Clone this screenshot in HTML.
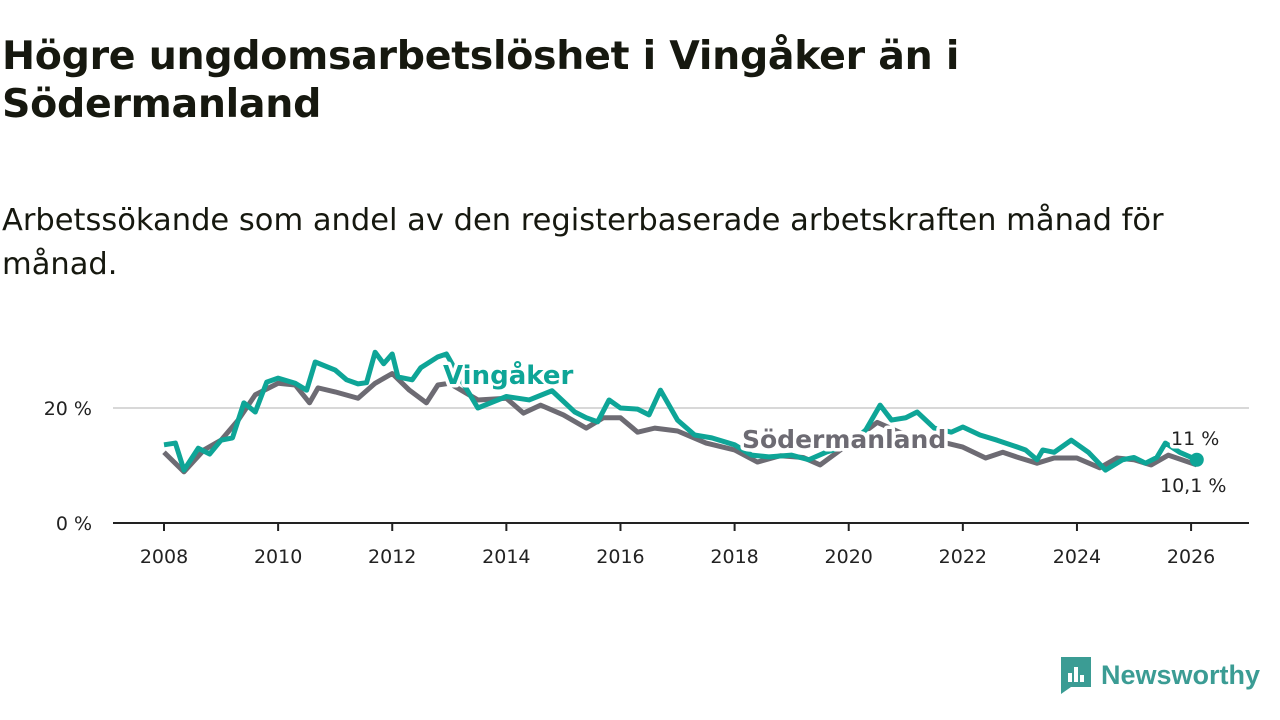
<!DOCTYPE html>
<html><head><meta charset="utf-8">
<style>
body{margin:0;width:1280px;height:720px;background:#fff;font-family:"DejaVu Sans","Liberation Sans",sans-serif;color:#111;overflow:hidden;position:relative}
h1{position:absolute;left:2px;top:32px;margin:0;font-size:39.5px;line-height:48px;font-weight:bold;color:#16180f;width:1000px;letter-spacing:-0.3px}
p{position:absolute;left:2px;top:199px;margin:0;font-size:30.5px;line-height:44px;color:#16180f;width:1200px}
svg{position:absolute;left:0;top:0}
</style></head><body>
<h1>Högre ungdomsarbetslöshet i Vingåker än i Södermanland</h1>
<p>Arbetssökande som andel av den registerbaserade arbetskraften månad för månad.</p>
<svg id="c" width="1280" height="720"></svg>
<script>
const xTicks=[2008,2010,2012,2014,2016,2018,2020,2022,2024,2026];
const yTicks=[0,20];
const vT=[2008,2008.2,2008.35,2008.6,2008.8,2009,2009.2,2009.4,2009.6,2009.8,2010,2010.3,2010.5,2010.65,2011,2011.2,2011.4,2011.55,2011.7,2011.85,2012,2012.1,2012.35,2012.5,2012.8,2012.95,2013.2,2013.5,2014,2014.4,2014.8,2015.2,2015.4,2015.6,2015.8,2016,2016.3,2016.5,2016.7,2017,2017.3,2017.6,2018,2018.3,2018.6,2019,2019.3,2019.6,2020,2020.3,2020.55,2020.75,2021,2021.2,2021.5,2021.8,2022,2022.3,2022.6,2022.9,2023.1,2023.3,2023.4,2023.6,2023.9,2024.2,2024.5,2024.8,2025,2025.2,2025.4,2025.55,2025.8,2026.1];
const vV=[13.6,13.9,9.2,13,12,14.4,14.8,20.9,19.3,24.5,25.2,24.3,23.1,28,26.6,24.9,24.2,24.4,29.7,27.7,29.4,25.4,24.9,27,28.9,29.4,25,20,22,21.4,23,19.3,18.3,17.6,21.4,20,19.8,18.8,23.1,17.9,15.3,14.8,13.6,11.8,11.5,11.8,11,12.3,13.5,16.2,20.5,17.9,18.3,19.3,16.5,15.8,16.7,15.3,14.4,13.4,12.7,11,12.7,12.3,14.4,12.3,9.2,11,11.4,10.4,11.4,13.9,12.3,11];
const sT=[2008,2008.35,2008.7,2009,2009.3,2009.6,2010,2010.3,2010.55,2010.7,2011,2011.4,2011.7,2012,2012.3,2012.6,2012.8,2013,2013.5,2014,2014.3,2014.6,2015,2015.4,2015.7,2016,2016.3,2016.6,2017,2017.5,2018,2018.4,2018.8,2019.2,2019.5,2019.8,2020.5,2021,2021.5,2022,2022.4,2022.7,2023,2023.3,2023.6,2024,2024.4,2024.7,2025,2025.3,2025.6,2026.1];
const sV=[12.3,8.9,12.7,14.4,17.9,22.3,24.3,24,20.9,23.5,22.8,21.7,24.3,26,23.1,20.9,24,24.3,21.4,21.7,19.1,20.5,18.8,16.5,18.3,18.3,15.8,16.5,16,13.9,12.7,10.6,11.7,11.4,10.1,12.3,17.5,15.3,14.4,13.2,11.3,12.3,11.3,10.4,11.3,11.3,9.6,11.3,11,10.1,11.8,10.1];
const X=t=>164+(t-2008)*57.06, Y=v=>523-v*5.75;
const svg=document.getElementById('c'),NS='http://www.w3.org/2000/svg';
function mk(tag,at){const e=document.createElementNS(NS,tag);for(const k in at)e.setAttribute(k,at[k]);svg.appendChild(e);return e;}
yTicks.forEach(v=>{
 if(v>0){const g=mk('line',{x1:113,x2:1249,y1:Y(v),y2:Y(v),stroke:'#d8d8d8','stroke-width':2});
 
 }
 const t=mk('text',{x:92,y:Y(v)+7,'text-anchor':'end','font-size':19,fill:'#222'});t.textContent=v+' %';
 
 
});
const ax=mk('line',{x1:113,x2:1249,y1:523,y2:523,stroke:'#222','stroke-width':2});


xTicks.forEach(v=>{
 mk('line',{x1:X(v),x2:X(v),y1:523,y2:531,stroke:'#222','stroke-width':2});
 const t=mk('text',{x:X(v),y:563,'text-anchor':'middle','font-size':19,fill:'#222'});t.textContent=v;
 
 
});
function line(T,V,c,n){const p=mk('polyline',{points:T.map((t,i)=>X(t)+','+Y(V[i])).join(' '),fill:'none',stroke:c,'stroke-width':5,'stroke-linejoin':'round'});
 
 }
line(sT,sV,'#6d6b73','line-sodermanland');
line(vT,vV,'#0ea597','line-vingaker');
const d=mk('circle',{cx:X(vT[vT.length-1]),cy:Y(vV[vV.length-1]),r:7,fill:'#0ea597'});


function lab(x,y,s,c,fs,w,n,a){const t=mk('text',{x:x,y:y,fill:c,'font-size':fs,'font-weight':w,stroke:'#fff','stroke-width':7,'paint-order':'stroke','stroke-linejoin':'round','text-anchor':a||'start'});t.textContent=s;
 
 }
lab(443,384,'Vingåker','#0ea597',26,'bold','label-vingaker');
lab(742,448,'Södermanland','#6d6b73',25,'bold','label-sodermanland');
lab(1171,445,'11 %','#222',19,'normal','value-vingaker');
lab(1160,492,'10,1 %','#222',19,'normal','value-sodermanland');
</script>
<div style="position:absolute;left:1059px;top:655px;display:flex;align-items:center;color:#3b9c94;font-size:27px;font-weight:bold;font-family:'Liberation Sans',sans-serif">
<svg width="34" height="40" style="position:static;margin-right:8px"><path d="M2 2h30v30H12l-10 7z" fill="#3b9c94"/><rect x="9" y="18" width="4" height="9" fill="#fff"/><rect x="15" y="12" width="4" height="15" fill="#fff"/><rect x="21" y="20" width="4" height="7" fill="#fff"/></svg>Newsworthy</div>
</body></html>
